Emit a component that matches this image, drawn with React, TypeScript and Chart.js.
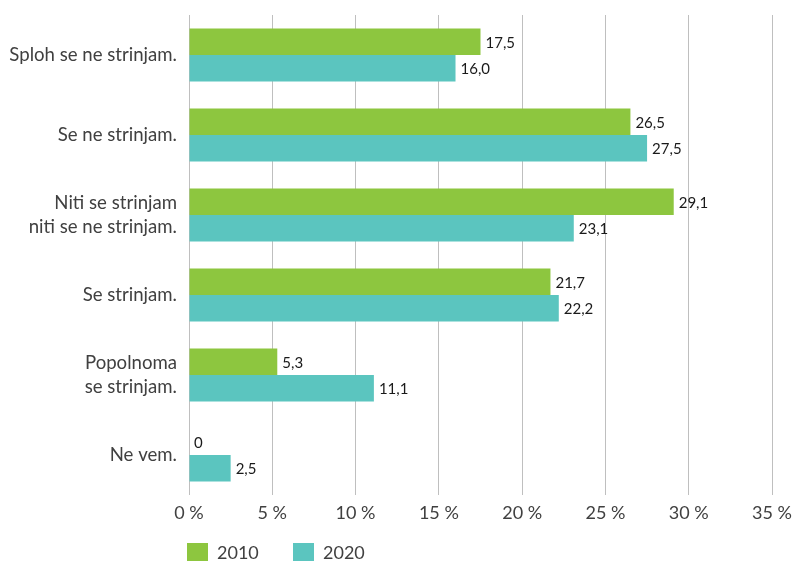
import React, { useEffect, useRef } from "react";
import { Chart, registerables } from "chart.js";

Chart.register(...registerables);

const categories: (string | string[])[] = [
  "Sploh se ne strinjam.",
  "Se ne strinjam.",
  ["Niti se strinjam", "niti se ne strinjam."],
  "Se strinjam.",
  ["Popolnoma", "se strinjam."],
  "Ne vem.",
];
const series2010 = [17.5, 26.5, 29.1, 21.7, 5.3, 0];
const series2020 = [16.0, 27.5, 23.1, 22.2, 11.1, 2.5];
const seriesLabels = ["2010", "2020"];
const colors = ["#8DC63F", "#5BC5BF"];
const xTicks = [0, 5, 10, 15, 20, 25, 30, 35];

const FONT = "Lato, 'Open Sans', sans-serif";

const valueLabels = {
  id: "valueLabels",
  afterDatasetsDraw(chart: any) {
    const ctx = chart.ctx;
    ctx.save();
    ctx.font = `15px ${FONT}`;
    ctx.fillStyle = "#1a1a1a";
    ctx.textAlign = "left";
    ctx.textBaseline = "middle";
    chart.data.datasets.forEach((ds: any, i: number) => {
      const meta = chart.getDatasetMeta(i);
      meta.data.forEach((bar: any, j: number) => {
        const v = ds.data[j];
        const txt = v === 0 ? "0" : v.toFixed(1).replace(".", ",");
        ctx.fillText(txt, bar.x + 5, bar.y + 1);
      });
    });
    ctx.restore();
  },
};

const customLegend = {
  id: "customLegend",
  afterDraw(chart: any) {
    const ctx = chart.ctx;
    const left = chart.chartArea.left - 2;
    ctx.save();
    ctx.font = `18px ${FONT}`;
    ctx.textBaseline = "middle";
    ctx.textAlign = "left";
    let x = left;
    const y = 552;
    chart.data.datasets.forEach((ds: any, i: number) => {
      ctx.fillStyle = ds.backgroundColor;
      ctx.fillRect(x, y - 9, 21, 18);
      ctx.fillStyle = "#404040";
      ctx.fillText(ds.label, x + 30, y + 1);
      x += 106;
    });
    ctx.restore();
  },
};

export default function App() {
  const ref = useRef<HTMLCanvasElement>(null);
  useEffect(() => {
    if (!ref.current) return;
    const chart = new Chart(ref.current, {
      type: "bar",
      data: {
        labels: categories,
        datasets: [
          { label: seriesLabels[0], data: series2010, backgroundColor: colors[0] },
          { label: seriesLabels[1], data: series2020, backgroundColor: colors[1] },
        ],
      },
      options: {
        indexAxis: "y",
        animation: false,
        responsive: false,
        maintainAspectRatio: false,
        layout: { padding: { top: 15, right: 21, left: 0, bottom: 0 } },
        datasets: {
          bar: { categoryPercentage: 0.6625, barPercentage: 1 },
        } as any,
        plugins: {
          legend: { display: false },
          tooltip: { enabled: false },
        },
        scales: {
          x: {
            min: 0,
            max: 35,
            afterBuildTicks: (scale: any) => {
              scale.ticks = xTicks.map((v) => ({ value: v }));
            },
            afterFit: (scale: any) => {
              scale.height = 66;
              scale.paddingLeft = 0;
              scale.paddingRight = 0;
            },
            ticks: {
              font: { family: FONT, size: 18 },
              color: "#404040",
              padding: 7,
              callback: (v: any) => `${v} %`,
              maxRotation: 0,
            },
            grid: { color: "#BFBFBF", drawTicks: false, lineWidth: 1 },
            border: { display: false },
          },
          y: {
            afterFit: (scale: any) => {
              scale.width = 189;
              scale.paddingTop = 0;
              scale.paddingBottom = 0;
            },
            ticks: {
              font: { family: FONT, size: 18.6, lineHeight: 1.25 },
              color: "#404040",
              padding: 12,
            },
            grid: { display: false, drawTicks: false },
            border: { display: false },
          },
        },
      },
      plugins: [valueLabels, customLegend],
    });
    return () => chart.destroy();
  }, []);
  return (
    <div style={{ position: "fixed", left: 0, top: 0, width: 793, height: 561, background: "#fff" }}>
      <canvas ref={ref} width={793} height={561} />
    </div>
  );
}
